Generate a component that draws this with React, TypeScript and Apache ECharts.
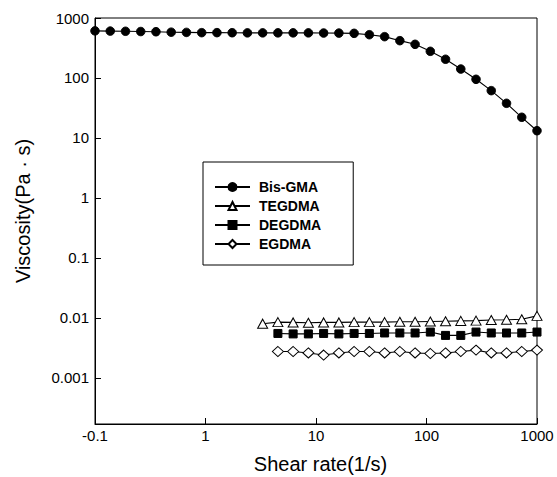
import React, { useEffect, useRef } from "react";
import * as echarts from "echarts";

// Shear rate (1/s), log-spaced measurement points
const shearRate = [
  0.1, 0.1374, 0.1888, 0.2593, 0.3562, 0.4894, 0.6723, 0.9237, 1.269, 1.743,
  2.395, 3.29, 4.52, 6.21, 8.532, 11.72, 16.11, 22.13, 30.4, 41.77,
  57.38, 78.84, 108.3, 148.7, 204.3, 280.7, 385.6, 529.8, 727.9, 1000,
];

// Viscosity (Pa·s)
const bisGMA = [
  610, 605, 600, 595, 590, 580, 575, 570, 570, 568,
  565, 565, 565, 565, 565, 562, 560, 555, 527, 489,
  419, 364, 278, 205, 141, 95, 61.5, 37.8, 22.1, 13.2,
];
// starts at shearRate index 11
const tegdma = [
  0.008, 0.0085, 0.0084, 0.0083, 0.0084, 0.0084, 0.0085, 0.0085, 0.0085, 0.0086,
  0.0086, 0.0087, 0.0088, 0.0089, 0.009, 0.0092, 0.0093, 0.0095, 0.0108,
];
// starts at shearRate index 12
const degdma = [
  0.0055, 0.0054, 0.0054, 0.0055, 0.0054, 0.0055, 0.0055, 0.0056, 0.0056, 0.0056,
  0.0058, 0.0051, 0.0051, 0.0058, 0.0056, 0.0056, 0.0056, 0.0058,
];
// starts at shearRate index 12
const egdma = [
  0.00275, 0.00275, 0.0026, 0.0024, 0.0026, 0.00275, 0.00275, 0.0026, 0.00275, 0.0026,
  0.00255, 0.0026, 0.00275, 0.0029, 0.0026, 0.0026, 0.00275, 0.0029,
];

const seriesNames = ["Bis-GMA", "TEGDMA", "DEGDMA", "EGDMA"];
const xTickLabels: Record<string, string> = { "-1": "-0.1", "0": "1", "1": "10", "2": "100", "3": "1000" };
const yTickLabels: Record<string, string> = {
  "-3": "0.001", "-2": "0.01", "-1": "0.1", "0": "1", "1": "10", "2": "100", "3": "1000",
};

const FONT = "'Liberation Sans', Arial, sans-serif";

function pairs(values: number[], start: number) {
  return values.map((v, i) => [shearRate[start + i], v]);
}

function fmt(map: Record<string, string>) {
  return (v: number) => {
    const l = Math.log10(v);
    const r = Math.round(l);
    if (Math.abs(l - r) > 1e-6) return "";
    return map[String(r)] ?? "";
  };
}

export default function App() {
  const ref = useRef<HTMLDivElement>(null);
  useEffect(() => {
    if (!ref.current) return;
    const chart = echarts.init(ref.current, null, { renderer: "svg" });
    const lineStyle = { color: "#000", width: 1.1 };
    const mk = (name: string, data: number[][], symbol: string, size: any, fill: string) => ({
      name,
      type: "line",
      data,
      symbol,
      symbolSize: size,
      showSymbol: true,
      lineStyle,
      itemStyle: { color: fill, borderColor: "#000", borderWidth: 1 },
      emphasis: { disabled: true },
      z: 3,
    });
    chart.setOption({
      animation: false,
      backgroundColor: "#fff",
      grid: {
        left: 95,
        right: 20,
        top: 18,
        bottom: 53,
        show: true,
        borderColor: "#000",
        borderWidth: 1,
        backgroundColor: "transparent",
        outerBoundsMode: "none",
      },
      legend: {
        data: seriesNames,
        orient: "vertical",
        left: 203,
        top: 162,
        padding: [18, 32, 14, 11],
        borderColor: "#000",
        borderWidth: 1,
        itemWidth: 35,
        itemHeight: 10,
        itemGap: 5,
        selectedMode: false,
        textStyle: { color: "#000", fontFamily: FONT, fontWeight: "bold", fontSize: 14, padding: [0, 0, 0, 4] },
      },
      xAxis: {
        type: "log",
        logBase: 10,
        min: 0.1,
        max: 1000,
        name: "Shear rate(1/s)",
        nameLocation: "middle",
        nameGap: 30,
        nameMoveOverlap: false,
        nameTextStyle: { color: "#000", fontFamily: FONT, fontSize: 20, padding: [0, 0, 0, 9] },
        axisLine: { show: true, lineStyle: { color: "#000", width: 1 } },
        axisTick: { show: true, inside: true, length: 6, lineStyle: { color: "#000" } },
        minorTick: { show: false },
        splitLine: { show: false },
        axisLabel: {
          color: "#000",
          fontFamily: FONT,
          fontSize: 15,
          margin: 4,
          showMinLabel: true,
          showMaxLabel: true,
          hideOverlap: false,
          formatter: fmt(xTickLabels),
        },
      },
      yAxis: {
        type: "log",
        logBase: 10,
        min: 0.00017,
        max: 1000,
        name: "Viscosity(Pa · s)",
        nameLocation: "middle",
        nameGap: 62,
        nameMoveOverlap: false,
        nameTextStyle: { color: "#000", fontFamily: FONT, fontSize: 20, padding: [0, 0, 0, 20] },
        axisLine: { show: true, lineStyle: { color: "#000", width: 1 } },
        axisTick: { show: true, inside: true, length: 6, lineStyle: { color: "#000" } },
        minorTick: { show: false },
        splitLine: { show: false },
        axisLabel: {
          color: "#000",
          fontFamily: FONT,
          fontSize: 15,
          margin: 6,
          showMinLabel: true,
          showMaxLabel: true,
          hideOverlap: false,
          formatter: fmt(yTickLabels),
        },
      },
      series: [
        mk(seriesNames[0], pairs(bisGMA, 0), "circle", 8.5, "#000"),
        mk(seriesNames[1], pairs(tegdma, 11), "triangle", [10, 9], "#fff"),
        mk(seriesNames[2], pairs(degdma, 12), "rect", 8, "#000"),
        mk(seriesNames[3], pairs(egdma, 12), "diamond", [11, 10], "#fff"),
      ],
    });
    return () => chart.dispose();
  }, []);
  return (
    <div
      ref={ref}
      style={{ position: "fixed", left: 0, top: 0, width: 557, height: 477, background: "#fff" }}
    />
  );
}
